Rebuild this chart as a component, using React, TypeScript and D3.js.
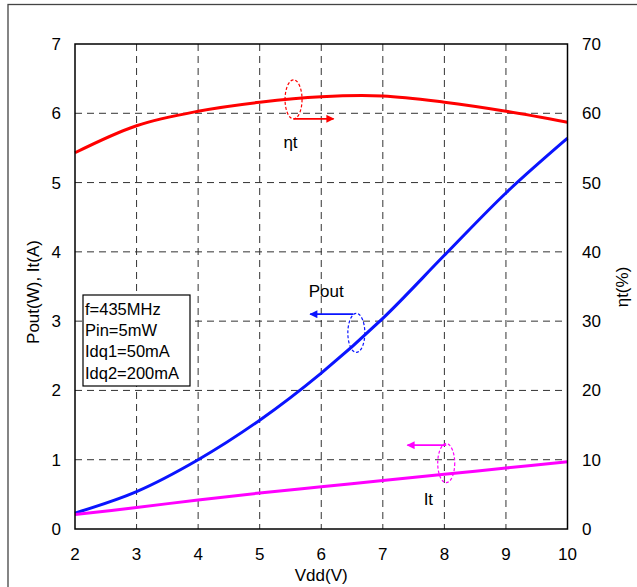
import React from "react";
import * as d3 from "d3";

// Supply voltage sweep (V)
const vdd = [2, 3, 4, 5, 6, 7, 8, 9, 10];
// Output power (W)
const poutW = [0.23, 0.54, 1.0, 1.57, 2.25, 3.04, 3.95, 4.85, 5.64];
// Total drain current (A)
const itA = [0.21, 0.31, 0.42, 0.52, 0.61, 0.7, 0.79, 0.88, 0.97];
// Total efficiency (%)
const etaPct = [54.3, 58.2, 60.3, 61.6, 62.4, 62.5, 61.6, 60.3, 58.7];

const xTicks = [2, 3, 4, 5, 6, 7, 8, 9, 10];
const leftTicks = [0, 1, 2, 3, 4, 5, 6, 7];
const rightTicks = [0, 10, 20, 30, 40, 50, 60, 70];
const conditions = ["f=435MHz", "Pin=5mW", "Idq1=50mA", "Idq2=200mA"];

const W = 637;
const H = 587;
const M = { left: 75, right: 567.5, top: 44, bottom: 529 };
const FONT = "Liberation Sans, Arial, sans-serif";

export default function App() {
  const x = d3.scaleLinear().domain([2, 10]).range([M.left, M.right]);
  const yL = d3.scaleLinear().domain([0, 7]).range([M.bottom, M.top]);
  const yR = d3.scaleLinear().domain([0, 70]).range([M.bottom, M.top]);

  const curve = d3.curveCatmullRom.alpha(0.5);
  const lineL = d3
    .line<number>()
    .x((_, i) => x(vdd[i]))
    .y((d) => yL(d))
    .curve(curve);
  const lineR = d3
    .line<number>()
    .x((_, i) => x(vdd[i]))
    .y((d) => yR(d))
    .curve(curve);

  // Series call-outs: dashed ellipse on the curve plus an arrow toward its axis
  const callouts = [
    { color: "#ff0000", cx: 5.55, cy: 6.2, ay: 5.92, ax0: 5.55, ax1: 6.2, label: "ηt", lx: 5.5, ly: 5.58 },
    { color: "#0a14ff", cx: 6.57, cy: 2.83, ay: 3.1, ax0: 6.52, ax1: 5.82, label: "Pout", lx: 6.08, ly: 3.43 },
    { color: "#ff00ff", cx: 8.03, cy: 0.95, ay: 1.21, ax0: 8.03, ax1: 7.4, label: "It", lx: 7.74, ly: 0.43 },
  ];

  return (
    <svg
      width={W}
      height={H}
      style={{ position: "absolute", left: 0, top: 0, background: "#fff", display: "block" }}
      fontFamily={FONT}
    >
      <defs>
        {callouts.map((c, i) => (
          <marker
            key={i}
            id={`arrow${i}`}
            viewBox="0 0 10 10"
            refX="9"
            refY="5"
            markerWidth="10"
            markerHeight="8"
            markerUnits="userSpaceOnUse"
            orient="auto"
          >
            <path d="M0,0 L10,5 L0,10 Z" fill={c.color} />
          </marker>
        ))}
      </defs>

      {/* outer frame */}
      <rect x={8} y={4.5} width={W + 10} height={H + 10} fill="none" stroke="#444" strokeWidth={1.3} />

      {/* grid */}
      <g stroke="#333" strokeWidth={1} strokeDasharray="7,5">
        {xTicks.slice(1, -1).map((t) => (
          <line key={`gx${t}`} x1={x(t)} x2={x(t)} y1={M.top} y2={M.bottom} />
        ))}
        {leftTicks.slice(1, -1).map((t) => (
          <line key={`gy${t}`} x1={M.left} x2={M.right} y1={yL(t)} y2={yL(t)} />
        ))}
      </g>

      {/* series */}
      <path d={lineR(etaPct) ?? ""} fill="none" stroke="#ff0000" strokeWidth={3} />
      <path d={lineL(poutW) ?? ""} fill="none" stroke="#0a14ff" strokeWidth={3} />
      <path d={lineL(itA) ?? ""} fill="none" stroke="#ff00ff" strokeWidth={3} />

      {/* plot frame */}
      <rect
        x={M.left}
        y={M.top}
        width={M.right - M.left}
        height={M.bottom - M.top}
        fill="none"
        stroke="#000"
        strokeWidth={1.5}
      />

      {/* call-outs */}
      {callouts.map((c, i) => (
        <g key={`c${i}`}>
          <ellipse
            cx={x(c.cx)}
            cy={yL(c.cy)}
            rx={8.5}
            ry={19.5}
            fill="none"
            stroke={c.color}
            strokeWidth={1.2}
            strokeDasharray="3,2"
          />
          <line
            x1={x(c.ax0)}
            x2={x(c.ax1)}
            y1={yL(c.ay)}
            y2={yL(c.ay)}
            stroke={c.color}
            strokeWidth={1.8}
            markerEnd={`url(#arrow${i})`}
          />
          <text x={x(c.lx)} y={yL(c.ly)} dy="0.35em" textAnchor="middle" fontSize={17} fill="#000">
            {c.label}
          </text>
        </g>
      ))}

      {/* conditions box */}
      <rect x={83} y={295} width={107} height={91} fill="#fff" stroke="#000" strokeWidth={1.2} />
      {conditions.map((t, i) => (
        <text key={t} x={85} y={309 + i * 21.3} dy="0.35em" fontSize={16.5} fill="#000">
          {t}
        </text>
      ))}

      {/* tick labels */}
      {xTicks.map((t) => (
        <text key={`xt${t}`} x={x(t)} y={554} dy="0.35em" textAnchor="middle" fontSize={17}>
          {t}
        </text>
      ))}
      {leftTicks.map((t) => (
        <text key={`lt${t}`} x={61} y={yL(t)} dy="0.35em" textAnchor="end" fontSize={17}>
          {t}
        </text>
      ))}
      {rightTicks.map((t) => (
        <text key={`rt${t}`} x={582} y={yR(t)} dy="0.35em" textAnchor="start" fontSize={17}>
          {t}
        </text>
      ))}

      {/* axis titles */}
      <text x={(M.left + M.right) / 2} y={575} dy="0.35em" textAnchor="middle" fontSize={17}>
        Vdd(V)
      </text>
      <text
        transform={`translate(33,292) rotate(-90)`}
        dy="0.35em"
        textAnchor="middle"
        fontSize={17}
      >
        Pout(W), It(A)
      </text>
      <text
        transform={`translate(622,287) rotate(-90)`}
        dy="0.35em"
        textAnchor="middle"
        fontSize={17}
      >
        ηt(%)
      </text>
    </svg>
  );
}
